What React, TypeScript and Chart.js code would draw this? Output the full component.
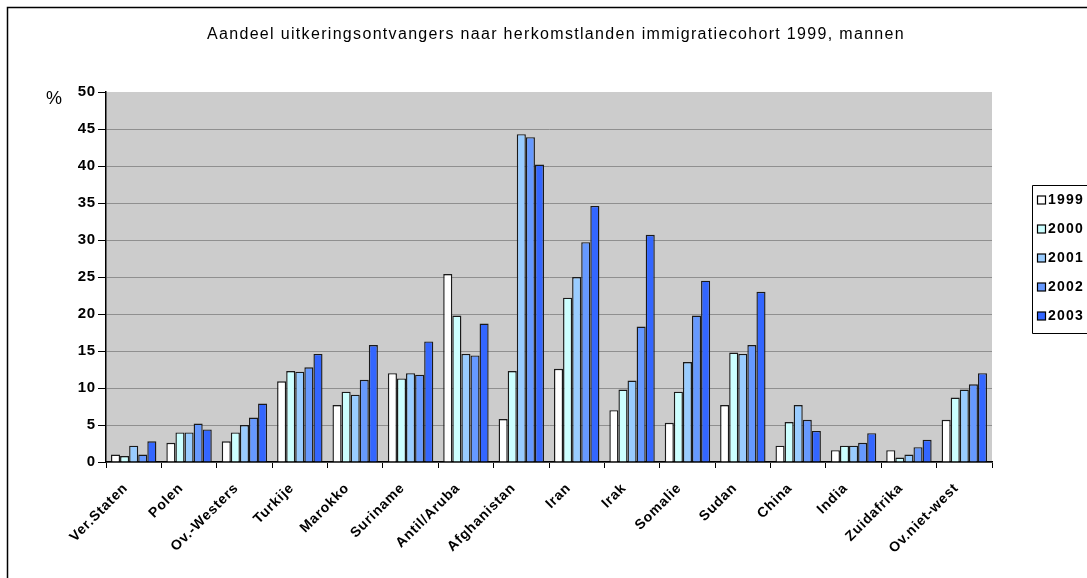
import React, { useEffect, useRef } from 'react';
import { Chart, registerables } from 'chart.js';

Chart.register(...registerables);

const FONT = '"Liberation Sans", Arial, Helvetica, sans-serif';

const titleText = 'Aandeel uitkeringsontvangers naar herkomstlanden immigratiecohort 1999, mannen';
const yUnitLabel = '%';

const categories = [
  'Ver.Staten', 'Polen', 'Ov.-Westers', 'Turkije', 'Marokko', 'Suriname', 'Antil/Aruba',
  'Afghanistan', 'Iran', 'Irak', 'Somalie', 'Sudan', 'China', 'India', 'Zuidafrika', 'Ov.niet-west',
];

const years = ['1999', '2000', '2001', '2002', '2003'];

const v1999 = [1.0, 2.6, 2.8, 10.9, 7.7, 12.0, 25.4, 5.8, 12.6, 7.0, 5.3, 7.7, 2.2, 1.6, 1.6, 5.7];
const v2000 = [0.8, 4.0, 4.0, 12.3, 9.5, 11.3, 19.8, 12.3, 22.2, 9.8, 9.5, 14.8, 5.4, 2.2, 0.6, 8.7];
const v2001 = [2.2, 4.0, 5.0, 12.2, 9.1, 12.0, 14.6, 44.3, 25.0, 11.0, 13.5, 14.6, 7.7, 2.2, 1.0, 9.8];
const v2002 = [1.0, 5.2, 6.0, 12.8, 11.1, 11.8, 14.4, 43.9, 29.7, 18.3, 19.8, 15.8, 5.7, 2.6, 2.0, 10.5];
const v2003 = [2.8, 4.4, 7.9, 14.6, 15.8, 16.3, 18.7, 40.2, 34.6, 30.7, 24.5, 23.0, 4.2, 3.9, 3.0, 12.0];

const seriesValues = [v1999, v2000, v2001, v2002, v2003];
const seriesColors = ['#FFFFFF', '#CCFFFF', '#99CCFF', '#6699FF', '#3366FF'];

const yMin = 0;
const yMax = 50;
const yStep = 5;

const decorPlugin = {
  id: 'decor',
  beforeUpdate(chart: any) {
    chart.ctx.letterSpacing = '0.8px';
  },
  beforeDraw(chart: any) {
    const { ctx, chartArea: a, width, height } = chart;
    ctx.save();
    ctx.fillStyle = '#FFFFFF';
    ctx.fillRect(0, 0, width, height);
    ctx.fillStyle = '#CCCCCC';
    ctx.fillRect(a.left, a.top, a.right - a.left, a.bottom - a.top);
    ctx.restore();
  },
  afterDraw(chart: any) {
    const { ctx, width, height } = chart;
    ctx.save();
    // outer frame (left and top edges visible)
    ctx.strokeStyle = '#000';
    ctx.lineWidth = 1.5;
    ctx.beginPath();
    ctx.moveTo(7.5, height + 5);
    ctx.lineTo(7.5, 7.5);
    ctx.lineTo(width + 5, 7.5);
    ctx.stroke();

    // title
    ctx.fillStyle = '#000';
    ctx.font = `16px ${FONT}`;
    ctx.letterSpacing = '0px';
    const w0 = ctx.measureText(titleText).width;
    const sp = Math.max(0, (698 - w0) / titleText.length);
    ctx.letterSpacing = `${sp}px`;
    ctx.textAlign = 'left';
    ctx.textBaseline = 'alphabetic';
    ctx.fillText(titleText, 207, 39);

    // unit label
    ctx.letterSpacing = '0px';
    ctx.font = `18px ${FONT}`;
    ctx.textAlign = 'center';
    ctx.textBaseline = 'middle';
    ctx.fillText(yUnitLabel, 54, 99);

    // legend
    const lx = 1032.5;
    const ly = 185.5;
    ctx.lineWidth = 1;
    ctx.strokeStyle = '#000';
    ctx.beginPath();
    ctx.moveTo(width + 5, ly);
    ctx.lineTo(lx, ly);
    ctx.lineTo(lx, 333.5);
    ctx.lineTo(width + 5, 333.5);
    ctx.stroke();
    ctx.font = `bold 14px ${FONT}`;
    ctx.letterSpacing = '1.2px';
    ctx.textAlign = 'left';
    ctx.textBaseline = 'middle';
    chart.data.datasets.forEach((ds: any, i: number) => {
      const cy = 200 + i * 29;
      ctx.fillStyle = ds.backgroundColor;
      ctx.fillRect(1037.5, cy - 4, 8, 8);
      ctx.strokeStyle = '#000';
      ctx.lineWidth = 1.2;
      ctx.strokeRect(1037.5, cy - 4, 8, 8);
      ctx.fillStyle = '#000';
      ctx.fillText(ds.label, 1048, cy + 0.5);
    });
    ctx.restore();
  },
};

export default function App() {
  const ref = useRef<HTMLCanvasElement | null>(null);

  useEffect(() => {
    if (!ref.current) return;
    Chart.defaults.font.family = FONT;
    const chart = new Chart(ref.current, {
      type: 'bar',
      data: {
        labels: categories,
        datasets: years.map((y, i) => ({
          label: y,
          data: seriesValues[i],
          backgroundColor: seriesColors[i],
          borderColor: '#1a1a1a',
          borderWidth: 1.4,
          barPercentage: 1.0,
          categoryPercentage: 0.82,
        })),
      },
      options: {
        responsive: false,
        animation: false,
        devicePixelRatio: 1,
        layout: { padding: { top: 92, right: 95, bottom: 0, left: 0 } },
        plugins: {
          legend: { display: false },
          title: { display: false },
          tooltip: { enabled: false },
        },
        scales: {
          x: {
            ticks: {
              font: { size: 14, weight: 'bold' },
              color: '#000',
              maxRotation: 45,
              minRotation: 45,
              autoSkip: false,
              padding: 12,
              labelOffset: -8,
            },
            grid: {
              drawOnChartArea: false,
              tickLength: 6,
              color: '#000',
              lineWidth: 1,
            },
            border: { color: '#000', width: 1.5 },
            afterFit: (s: any) => {
              s.height = 116;
            },
          },
          y: {
            min: yMin,
            max: yMax,
            ticks: {
              stepSize: yStep,
              font: { size: 15, weight: 'bold' },
              color: '#000',
              padding: 2,
            },
            grid: {
              color: (c: any) => (c.tick && c.tick.value === yMax ? 'rgba(0,0,0,0)' : '#8f8f8f'),
              tickColor: '#000',
              tickLength: 8,
              lineWidth: 1,
            },
            border: { color: '#000', width: 1.5 },
            afterFit: (s: any) => {
              s.width = 106;
            },
          },
        },
      },
      plugins: [decorPlugin],
    } as any);
    return () => chart.destroy();
  }, []);

  return (
    <div style={{ position: 'absolute', left: 0, top: 0, width: 1087, height: 578 }}>
      <canvas ref={ref} width={1087} height={578} style={{ display: 'block' }} />
    </div>
  );
}
